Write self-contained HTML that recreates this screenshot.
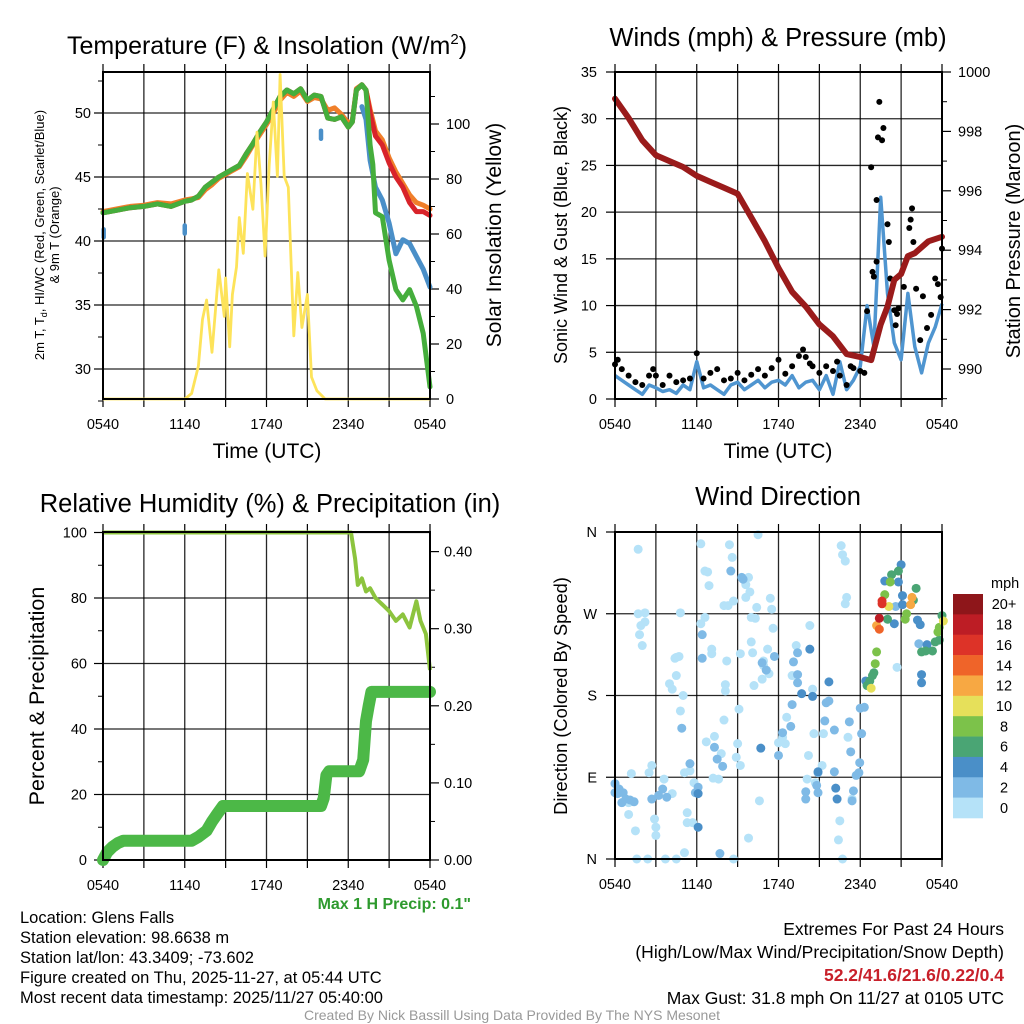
<!DOCTYPE html>
<html><head><meta charset="utf-8">
<style>
html,body{margin:0;padding:0;background:#fff;}
svg{display:block;font-family:"Liberation Sans",Arial,sans-serif;}
</style></head>
<body>
<svg id="fig" width="1024" height="1024" viewBox="0 0 1024 1024" xmlns="http://www.w3.org/2000/svg">
<rect width="1024" height="1024" fill="#fff"/>
<text x="267" y="54" font-size="25" text-anchor="middle">Temperature (F) &amp; Insolation (W/m<tspan dy="-10" font-size="15">2</tspan><tspan dy="10">)</tspan></text>
<text x="778" y="46" font-size="25.5" text-anchor="middle">Winds (mph) &amp; Pressure (mb)</text>
<text x="270" y="512" font-size="25.5" text-anchor="middle">Relative Humidity (%) &amp; Precipitation (in)</text>
<text x="778" y="505" font-size="25.5" text-anchor="middle">Wind Direction</text>
<text x="267" y="458" font-size="21" text-anchor="middle">Time (UTC)</text>
<text x="778" y="458" font-size="21" text-anchor="middle">Time (UTC)</text>
<text transform="translate(44,235) rotate(-90)" font-size="13" text-anchor="middle">2m T, T<tspan dy="3" font-size="9">d</tspan><tspan dy="-3">, HI/WC (Red, Green, Scarlet/Blue)</tspan></text>
<text transform="translate(59,235) rotate(-90)" font-size="13" text-anchor="middle">&amp; 9m T (Orange)</text>
<text transform="translate(501,235) rotate(-90)" font-size="21" text-anchor="middle">Solar Insolation (Yellow)</text>
<text transform="translate(567,235) rotate(-90)" font-size="18" text-anchor="middle">Sonic Wind &amp; Gust (Blue, Black)</text>
<text transform="translate(1020,241) rotate(-90)" font-size="20" text-anchor="middle">Station Pressure (Maroon)</text>
<text transform="translate(44,696) rotate(-90)" font-size="21.5" text-anchor="middle">Percent &amp; Precipitation</text>
<text transform="translate(567,696) rotate(-90)" font-size="18.3" text-anchor="middle">Direction (Colored By Speed)</text>
<text x="471" y="909" font-size="16" font-weight="bold" fill="#2e9a2e" text-anchor="end">Max 1 H Precip: 0.1"</text>
<g font-size="16.5">
<text x="20" y="923">Location: Glens Falls</text>
<text x="20" y="943">Station elevation: 98.6638 m</text>
<text x="20" y="963">Station lat/lon: 43.3409; -73.602</text>
<text x="20" y="983">Figure created on Thu, 2025-11-27, at 05:44 UTC</text>
<text x="20" y="1003">Most recent data timestamp: 2025/11/27 05:40:00</text>
</g>
<g font-size="17.5" text-anchor="end">
<text x="1004" y="935">Extremes For Past 24 Hours</text>
<text x="1004" y="958">(High/Low/Max Wind/Precipitation/Snow Depth)</text>
<text x="1004" y="981" font-weight="bold" fill="#c8202a">52.2/41.6/21.6/0.22/0.4</text>
<text x="1004" y="1004">Max Gust: 31.8 mph On 11/27 at 0105 UTC</text>
</g>
<text x="512" y="1020" font-size="14" fill="#999" text-anchor="middle">Created By Nick Bassill Using Data Provided By The NYS Mesonet</text>
</svg>
<script>
// ---------- DATA ----------
var timeTickLabels = ["0540","1140","1740","2340","0540"];
var tempTickLabels = ["30","35","40","45","50"];
var solarTickLabels = ["0","20","40","60","80","100"];
var windTickLabels = ["0","5","10","15","20","25","30","35"];
var presTickLabels = ["990","992","994","996","998","1000"];
var rhTickLabels = ["0","20","40","60","80","100"];
var precipTickLabels = ["0.00","0.10","0.20","0.30","0.40"];
var dirTickLabels = ["N","E","S","W","N"];
var speedBinLabels = ["0","2","4","6","8","10","12","14","16","18","20+"];
var speedBinColors = ["#b5e2f8","#7fbae6","#4a8fc8","#4aa574","#7cc24a","#e6e05a","#f7a843","#ef6429","#dd3328","#bd1d25","#8e161a"];

var commonTimes = [0,1,2,3,4,5,6,6.5,7,7.5,8,8.5,9,9.5,10,10.5,11,11.5,12,12.5,13,13.5,14,14.5,15,15.5,16,16.5,17,17.5,18,18.3,18.6,19,19.3];
var commonTemps = [42.2,42.4,42.6,42.7,42.9,42.7,43.1,43.2,43.5,44.2,44.6,45.0,45.3,45.6,45.9,46.8,47.6,48.5,49.3,50.3,51.3,51.8,51.5,51.9,51.0,51.4,51.3,49.6,49.5,49.7,48.9,49.3,51.8,52.2,51.8];
var orangeCommon = [42.3,42.5,42.7,42.8,43.0,42.9,43.2,43.3,43.4,44.0,44.4,44.9,45.2,45.5,45.8,46.6,47.5,48.3,49.1,50.0,51.0,51.6,51.3,51.7,50.9,51.2,51.1,50.2,50.4,49.9,49.2,49.4,51.9,52.2,51.8];
var tailTimes = [19.6,20,20.5,21,21.5,22,22.5,23,23.5,24];
var redTail = [50.0,48.2,47.5,46.1,45.0,44.2,43.0,42.3,42.3,42.0];
var orangeTail = [50.3,48.6,47.9,46.5,45.4,44.5,43.6,43.0,42.8,42.5];
var greenTailTimes = [19.6,19.8,20,20.5,21,21.5,22,22.5,23,23.5,24];
var greenTail = [47.5,46.0,42.2,41.9,38.5,36.2,35.4,36.2,34.9,32.8,28.6];
var blueTimes = [19,19.3,19.6,20,20.5,21,21.5,22,22.5,23,23.5,24];
var blueTemps = [50.5,49.5,46.3,44.2,43.2,41.4,39.0,40.1,39.8,38.8,37.8,36.4];
var blueBitTimes = [0.05,6,16];
var blueBitTemps = [40.6,40.9,48.3];

var solarTimes = [0,6,6.5,7,7.3,7.6,8,8.5,8.9,9,9.3,9.5,9.8,10,10.3,10.6,11,11.3,11.6,11.9,12.2,12.5,12.8,13,13.3,13.6,14,14.3,14.6,15,15.3,15.7,16.3,24];
var solarVals = [0,0,2,12,29,36,17,47,30,44,19,38,48,66,53,82,69,97,78,52,85,108,81,118,81,77,23,46,26,38,8,3,0,0];

var presTimes = [0,1,2,3,4,5,6,7,8,9,10,11,12,13,14,15,16,17,18,18.8,19.5,20,20.5,21,21.5,22,22.5,23,24];
var presVals = [999.1,998.45,997.7,997.2,997.0,996.8,996.5,996.3,996.1,995.9,995.1,994.3,993.4,992.6,992.1,991.5,991.1,990.5,990.4,990.3,991.5,992.1,993.0,993.2,993.8,993.9,994.1,994.3,994.45];

var windVals = [2.5,2,1.5,1,0.5,1.5,1.2,0.8,1,0.6,1.5,1,4,1.2,1.5,1,0.5,1.5,1.8,1,1.5,2,1.2,1.8,2,1.5,2.5,1.2,1.8,2,1,2.5,0.5,4,1,2,3.5,10,5.6,21.6,11.3,6,4.2,11.3,5.6,2.8,6,7.7,10.2];

var gustTimes = [0,0.2,0.5,1,1.5,2,2.5,2.8,3,3.5,4,4.5,5,5.5,6,6.5,7,7.5,8,8.5,9,9.5,10,10.5,11,11.5,12,12.5,13,13.5,13.8,14,14.3,14.5,15,15.5,16,16.3,16.5,17,17.3,17.5,18,18.3,18.5,18.8,18.9,19.0,19.2,19.2,19.4,19.3,19.6,19.7,20,20.1,20.2,20.5,20.6,20.7,20.8,21.2,21.6,21.7,21.8,21.9,22.1,22.4,22.6,22.9,23.2,23.5,23.7,23.9,24];
var gustVals = [3.7,4.2,3.2,2.5,1.8,1.5,2.5,3.2,2.5,1.5,2.5,1.8,2,2.2,4.9,2.2,2.8,3.2,2,2.2,2.8,2,2.6,3.2,2.5,3.3,4.2,2.7,3.5,4.6,5.3,4.5,3.8,3.5,2.8,3.5,3,4,2.5,1.5,3.5,3.3,3,2.8,9.4,24.8,13.6,13.1,21.3,14.7,31.8,28,27.7,29,18.7,16.8,12.9,9.5,7.9,9.1,9.7,12,18.3,19.2,20.4,16.8,11.8,6.3,11,7.6,9,12.9,12.3,10.9,16.1];

var rhTimes = [0,18.2,18.5,18.7,19,19.3,19.6,20,20.5,21,21.5,22,22.5,23,23.3,23.7,24];
var rhVals = [100,100,92,84,86,82,83,80,78,76,73,75,71,79,73,69,58];
var precipTimes = [0,0.3,0.7,1.1,1.5,6.5,7,7.6,8,8.4,8.8,16,16.2,16.4,16.6,18.8,19.1,19.3,19.5,19.7,24];
var precipVals = [0,0.01,0.017,0.022,0.025,0.025,0.03,0.038,0.05,0.06,0.07,0.07,0.08,0.11,0.115,0.115,0.13,0.18,0.2,0.218,0.218];

var dirTimes = [1.7,1.7,2.2,2.2,1.9,1.8,2.0,1.2,2.5,2.7,1.0,1.0,1.5,1.6,2.4,2.9,3.0,3.0,3.7,3.6,4.2,4.5,5.1,5.3,5.3,5.7,5.1,5.5,5.8,6.3,6.6,6.8,6.9,6.6,6.3,7.1,7.1,4.8,4.5,4.4,4.7,4.5,4.0,4.2,5.0,4.8,6.7,7.3,7.8,7.2,7.6,8.4,8.6,8.0,8.3,8.7,8.2,8.1,8.1,8.0,9.1,9.0,8.9,9.2,9.2,9.8,9.6,9.9,9.6,10.4,10.0,10.3,10.0,10.1,10.2,10.5,10.6,9.8,8.7,11.2,10.9,11.3,11.4,11.5,11.6,10.9,10.8,12.6,12.3,12.0,12.5,13.3,13.0,14.3,14.5,14.2,14.1,14.6,15.2,15.3,16.6,16.7,16.9,17.0,16.9,17.1,16.5,16.4,16.7,20.7,14.7,17.4,
0,0.3,0.6,0.8,0.5,1.1,1.4,0.2,0,2.7,3.2,3.5,3.8,5.5,6.1,5.9,6.4,6.4,4.9,7.3,7.5,7.9,7.7,8.5,9.3,9.4,10.8,11.1,11.7,12.0,12.3,12.9,13.0,13.1,13.4,13.4,13.4,14.0,14.0,14.8,14.9,14.9,16.1,15.4,15.5,15.7,16.1,17.2,17.3,17.5,17.4,18.0,18.3,18.1,17.7,17.9,17.96,20.6,22.3,
6.1,6.1,10.7,13.7,14.5,14.3,15.7,16.2,16.3,14.9,21.0,19.8,20.8,21.1,21.1,20.5,22.2,22.4,22.5,22.5,18.4,22.9,
20.8,20.3,22.1,20.0,21.9,18.5,18.7,18.9,19.0,22.5,22.8,23.3,23.5,23.8,24.0,
20.2,19.8,19.2,19.1,21.4,21.3,23.7,23.8,
20.1,18.8,24.1,21.8,21.7,19.2,19.4,19.6,19.6,19.4];
var dirDegs = [341,270,271,261,257,247,235,94,95,103,62,49,31,0,0,44,35,26,0,88,72,0,7,51,40,40,95,97,84,347,317,316,301,266,259,231,226,271,222,221,223,202,193,187,180,163,129,135,116,89,88,346,332,279,279,284,218,192,185,153,165,127,112,103,226,310,302,294,288,277,266,265,239,227,191,357,64,23,0,231,218,204,287,275,254,213,198,156,134,128,127,235,202,257,187,114,88,138,103,138,345,335,328,288,281,134,42,21,0,211,84,66,
83,77,73,66,62,65,63,72,73,66,70,77,68,105,79,73,221,247,144,123,110,102,6,317,310,308,216,208,223,114,139,146,170,217,227,203,194,74,66,81,73,95,96,152,172,174,142,151,118,75,64,166,167,138,92,95,106,278,237,
72,35,122,182,179,231,195,78,66,96,324,306,305,290,280,259,263,258,203,194,196,236,
317,313,298,264,285,191,196,202,205,228,229,229,239,241,268,
305,291,228,215,270,264,250,255,
278,188,262,288,280,257,253,281,284,265];
var dirSpeeds = [1,1,1,1,1,1,1,1,1,1,1,1,1,1,1,1,1,1,1,1,1,1,1,1,1,1,1,1,1,1,1,1,1,1,1,1,1,1,1,1,1,1,1,1,1,1,1,1,1,1,1,1,1,1,1,1,1,1,1,1,1,1,1,1,1,1,1,1,1,1,1,1,1,1,1,1,1,1,1,1,1,1,1,1,1,1,1,1,1,1,1,1,1,1,1,1,1,1,1,1,1,1,1,1,1,1,1,1,1,1,1,1,
3,3,3,3,3,3,3,3,3,3,3,3,3,3,3,3,3,3,3,3,3,3,3,3,3,3,3,3,3,3,3,3,3,3,3,3,3,3,3,3,3,3,3,3,3,3,3,3,3,3,3,3,3,3,3,3,3,3,3,
5,5,5,5,5,5,5,5,5,5,5,5,5,5,5,5,5,5,5,5,5,5,
7,7,7,7,7,7,7,7,7,7,7,7,7,7,7,
9,9,9,9,9,9,9,9,
11,11,11,13,13,13,15,17,17,19];

// ---------- HELPERS ----------
var NS = "http://www.w3.org/2000/svg";
var svg = document.getElementById("fig");
function mk(tag, attrs, parent) {
  var e = document.createElementNS(NS, tag);
  for (var k in attrs) e.setAttribute(k, attrs[k]);
  (parent || svg).appendChild(e);
  return e;
}
function lin(d0, d1, r0, r1) { return function (v) { return r0 + (v - d0) * (r1 - r0) / (d1 - d0); }; }
function pathFrom(ts, vs, xf, yf) {
  var d = "";
  for (var i = 0; i < ts.length; i++) d += (i ? "L" : "M") + xf(ts[i]).toFixed(1) + "," + yf(vs[i]).toFixed(1);
  return d;
}
function speedColor(s) {
  var i = Math.min(10, Math.floor(s / 2));
  return speedBinColors[i];
}

var xL = lin(0, 24, 103, 430);
var xR = lin(0, 24, 615, 942);
var yTemp = lin(30, 50, 369, 113);
var ySolar = lin(0, 100, 399, 124);
var yWind = lin(0, 35, 399, 72);
var yPres = lin(990, 1000, 369, 72);
var yRH = lin(0, 100, 860, 532.5);
var yPrec = lin(0, 0.4, 860, 551.6);
var yDir = lin(0, 360, 859, 532);

function panelFrame(name, x0, x1, y0, y1, hGrid) {
  var g = mk("g", {});
  
  
  for (var h = 3; h < 24; h += 3) {
    var gl = mk("line", {x1: lin(0,24,x0,x1)(h), x2: lin(0,24,x0,x1)(h), y1: y0, y2: y1, stroke: "#000", "stroke-width": 1.3, "stroke-opacity": 0.85}, g);
    
    
  }
  for (var j = 0; j < hGrid.length; j++) {
    var hl = mk("line", {x1: x0, x2: x1, y1: hGrid[j], y2: hGrid[j], stroke: "#000", "stroke-width": 1.3, "stroke-opacity": 0.85}, g);
    
    
  }
  for (var h2 = 0; h2 <= 24; h2 += 3) {
    var xx = lin(0,24,x0,x1)(h2);
    var t1 = mk("line", {x1: xx, x2: xx, y1: y0 - 8, y2: y0, stroke: "#000", "stroke-width": 1.2}, g);
    
    
    var t2 = mk("line", {x1: xx, x2: xx, y1: y1, y2: y1 + 8, stroke: "#000", "stroke-width": 1.2}, g);
    
    
  }
  for (var k = 0; k < timeTickLabels.length; k++) {
    var tl = mk("text", {x: lin(0,24,x0,x1)(k * 6), y: y1 + 30, "font-size": 14.5, "text-anchor": "middle"}, g);
    tl.textContent = timeTickLabels[k];
    
    
  }
  return g;
}
function frameRect(name, x0, x1, y0, y1) {
  var r = mk("rect", {x: x0, y: y0, width: x1 - x0, height: y1 - y0, fill: "none", stroke: "#000", "stroke-width": 2});
  
  
}
function yAxis(name, vals, labels, yf, xEdge, side, minorVals, anchorX, anchor) {
  var g = mk("g", {});
  
  
  var dir = side === "left" ? -1 : 1;
  for (var i = 0; i < vals.length; i++) {
    var y = yf(vals[i]);
    var t = mk("line", {x1: xEdge, x2: xEdge + dir * 9, y1: y, y2: y, stroke: "#000", "stroke-width": 1.2}, g);
    
    
    var lb = mk("text", {x: anchorX, y: y + 5, "font-size": 14.5, "text-anchor": anchor}, g);
    lb.textContent = labels[i];
    
    
  }
  for (var m = 0; m < minorVals.length; m++) {
    var ym = yf(minorVals[m]);
    var mt = mk("line", {x1: xEdge, x2: xEdge + dir * 5, y1: ym, y2: ym, stroke: "#000", "stroke-width": 1}, g);
    
    
  }
}

// ---------- PANEL 1 ----------
panelFrame("temperature", 103, 430, 72, 399, [yTemp(30), yTemp(35), yTemp(40), yTemp(45), yTemp(50)]);
yAxis("temperature-y-axis", [30,35,40,45,50], tempTickLabels, yTemp, 103, "left", [27.5,32.5,37.5,42.5,47.5,52.5], 91, "end");
yAxis("solar-y-axis", [0,20,40,60,80,100], solarTickLabels, ySolar, 430, "right", [10,30,50,70,90,110], 446, "start");

var oT = commonTimes.concat(tailTimes), oV = orangeCommon.concat(orangeTail);
var pOr = mk("path", {d: pathFrom(oT, oV, xL, yTemp), fill: "none", stroke: "#f07f2a", "stroke-width": 5, "stroke-linejoin": "round", "stroke-linecap": "round"});


var rT = commonTimes.concat(tailTimes), rV = commonTemps.concat(redTail);
var pRed = mk("path", {d: pathFrom(rT, rV, xL, yTemp), fill: "none", stroke: "#d8232a", "stroke-width": 5, "stroke-linejoin": "round", "stroke-linecap": "round"});


var pBlue = mk("path", {d: pathFrom(blueTimes, blueTemps, xL, yTemp), fill: "none", stroke: "#4a8fc8", "stroke-width": 5, "stroke-linejoin": "round", "stroke-linecap": "round"});


for (var b = 0; b < blueBitTimes.length; b++) {
  var bb = mk("line", {x1: xL(blueBitTimes[b]), x2: xL(blueBitTimes[b]), y1: yTemp(blueBitTemps[b]) - 4, y2: yTemp(blueBitTemps[b]) + 4, stroke: "#4a8fc8", "stroke-width": 4.5, "stroke-linecap": "round"});
  
  
}
var gT = commonTimes.concat(greenTailTimes), gV = commonTemps.concat(greenTail);
var pGr = mk("path", {d: pathFrom(gT, gV, xL, yTemp), fill: "none", stroke: "#45ae3c", "stroke-width": 5, "stroke-linejoin": "round", "stroke-linecap": "round"});


var pSol = mk("path", {d: pathFrom(solarTimes, solarVals, xL, ySolar), fill: "none", stroke: "#fde35a", "stroke-width": 2.8, "stroke-linejoin": "round"});


frameRect("temperature", 103, 430, 72, 399);

// ---------- PANEL 2 ----------
panelFrame("winds", 615, 942, 72, 399, [yWind(5), yWind(10), yWind(15), yWind(20), yWind(25), yWind(30)]);
yAxis("wind-y-axis", [0,5,10,15,20,25,30,35], windTickLabels, yWind, 615, "left", [], 597, "end");
yAxis("pressure-y-axis", [990,992,994,996,998,1000], presTickLabels, yPres, 942, "right", [989,991,993,995,997,999], 958, "start");
var wT = [];
for (var wi = 0; wi < windVals.length; wi++) wT.push(wi * 0.5);
var pW = mk("path", {d: pathFrom(wT, windVals, xR, yWind), fill: "none", stroke: "#4f95d0", "stroke-width": 3.5, "stroke-linejoin": "round"});


for (var gi = 0; gi < gustTimes.length; gi++) {
  var c = mk("circle", {cx: xR(gustTimes[gi]), cy: yWind(gustVals[gi]), r: 3, fill: "#000"});
  
  
}
var pP = mk("path", {d: pathFrom(presTimes, presVals, xR, yPres), fill: "none", stroke: "#9a1b1b", "stroke-width": 6, "stroke-linejoin": "round", "stroke-linecap": "round"});


frameRect("winds", 615, 942, 72, 399);

// ---------- PANEL 3 ----------
panelFrame("humidity", 103, 430, 532, 860, [yRH(20), yRH(40), yRH(60), yRH(80), yRH(100)]);
yAxis("rh-y-axis", [0,20,40,60,80,100], rhTickLabels, yRH, 103, "left", [10,30,50,70,90], 87, "end");
yAxis("precip-y-axis", [0,0.1,0.2,0.3,0.4], precipTickLabels, yPrec, 430, "right", [0.05,0.15,0.25,0.35], 444, "start");
var pPr = mk("path", {d: pathFrom(precipTimes, precipVals, xL, yPrec), fill: "none", stroke: "#4cb847", "stroke-width": 12, "stroke-linejoin": "round", "stroke-linecap": "round"});


var pRH = mk("path", {d: pathFrom(rhTimes, rhVals, xL, yRH), fill: "none", stroke: "#8cc43e", "stroke-width": 4, "stroke-linejoin": "round"});


frameRect("humidity", 103, 430, 532, 860);

// ---------- PANEL 4 ----------
panelFrame("wind-direction", 615, 942, 532, 859, [yDir(90), yDir(180), yDir(270)]);
yAxis("direction-y-axis", [0,90,180,270,360], dirTickLabels, yDir, 615, "left", [], 597, "end");
for (var di = 0; di < dirTimes.length; di++) {
  var dc = mk("circle", {cx: xR(dirTimes[di]), cy: yDir(dirDegs[di]), r: 4.5, fill: speedColor(dirSpeeds[di])});
  
  
}
frameRect("wind-direction", 615, 942, 532, 859);

var cbTitle = mk("text", {x: 991, y: 588, "font-size": 14.5});
cbTitle.textContent = "mph";


var cbH = (818 - 594) / speedBinColors.length;
for (var ci = 0; ci < speedBinColors.length; ci++) {
  var idx = speedBinColors.length - 1 - ci;
  var cr = mk("rect", {x: 953, y: 594 + ci * cbH, width: 30, height: cbH + 0.3, fill: speedBinColors[idx]});
  
  
  var ct = mk("text", {x: 1004, y: 594 + ci * cbH + cbH / 2 + 5, "font-size": 14.5, "text-anchor": "middle"});
  ct.textContent = speedBinLabels[idx];
  
  
}
</script>
</body></html>
